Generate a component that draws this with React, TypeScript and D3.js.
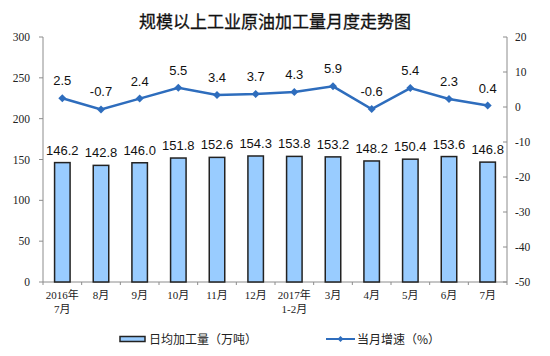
import React from "react";
import * as d3 from "d3";

const categories = ["2016年\n7月", "8月", "9月", "10月", "11月", "12月", "2017年\n1-2月", "3月", "4月", "5月", "6月", "7月"];
const dailyOutput = [146.2, 142.8, 146.0, 151.8, 152.6, 154.3, 153.8, 153.2, 148.2, 150.4, 153.6, 146.8];
const growth = [2.5, -0.7, 2.4, 5.5, 3.4, 3.7, 4.3, 5.9, -0.6, 5.4, 2.3, 0.4];
const leftTicks = [0, 50, 100, 150, 200, 250, 300];
const rightTicks = [-50, -40, -30, -20, -10, 0, 10, 20];
const title = "规模以上工业原油加工量月度走势图";
const barLegend = "日均加工量（万吨）";
const lineLegend = "当月增速（%）";

const W = 550;
const H = 356;
const left = 43;
const right = 507;
const top = 37;
const bottom = 282;

const serif = "'Liberation Serif', 'Noto Sans CJK SC', serif";
const sans = "'Liberation Sans', Arial, sans-serif";
const cjk = "'Noto Sans CJK SC', sans-serif";

export default function App() {
  const x = d3.scaleBand<number>().domain(d3.range(categories.length)).range([left, right]).padding(0);
  const yL = d3.scaleLinear().domain([0, 300]).range([bottom, top]);
  const yR = d3.scaleLinear().domain([-50, 20]).range([bottom, top]);
  const bw = 15.5;
  const lineColor = "#2E6DBD";
  const axisColor = "#8c8c8c";
  const line = d3
    .line<number>()
    .x((_, i) => (x(i) as number) + x.bandwidth() / 2)
    .y((d) => yR(d));
  const diamond = (cx: number, cy: number, r: number) =>
    `M${cx},${cy - r}L${cx + r},${cy}L${cx},${cy + r}L${cx - r},${cy}Z`;

  return (
    <svg width={W} height={H} style={{ position: "absolute", left: 0, top: 0, background: "#fff" }}>
      <text x={W / 2} y={28} textAnchor="middle" fontFamily={cjk} fontSize={17} fill="#111" fontWeight={400} stroke="#111" strokeWidth={0.3}>
        {title}
      </text>

      {/* axes */}
      <line x1={left} x2={left} y1={top} y2={bottom} stroke={axisColor} />
      <line x1={right} x2={right} y1={top} y2={bottom} stroke={axisColor} />
      <line x1={left} x2={right} y1={bottom} y2={bottom} stroke={axisColor} />
      {leftTicks.map((t) => (
        <g key={"l" + t}>
          <line x1={left - 4} x2={left} y1={yL(t)} y2={yL(t)} stroke={axisColor} />
          <text x={left - 13} y={yL(t) + 4} textAnchor="end" fontFamily={serif} fontSize={11.5} fill="#222">
            {t}
          </text>
        </g>
      ))}
      {rightTicks.map((t) => (
        <g key={"r" + t}>
          <line x1={right - 4} x2={right} y1={yR(t)} y2={yR(t)} stroke={axisColor} />
          <text x={515} y={yR(t) + 4} textAnchor="start" fontFamily={serif} fontSize={11.5} fill="#222">
            {t}
          </text>
        </g>
      ))}
      {d3.range(categories.length + 1).map((i) => {
        const xx = left + i * x.bandwidth();
        return <line key={"xt" + i} x1={xx} x2={xx} y1={bottom} y2={bottom + 3} stroke={axisColor} />;
      })}
      {categories.map((c, i) => {
        const cx = (x(i) as number) + x.bandwidth() / 2;
        return (
          <text key={"c" + i} x={cx} y={299} textAnchor="middle" fontFamily={serif} fontSize={11} fill="#222">
            {c.split("\n").map((s, j) => (
              <tspan key={j} x={cx} dy={j === 0 ? 0 : 14}>
                {s}
              </tspan>
            ))}
          </text>
        );
      })}

      {/* bars */}
      {dailyOutput.map((v, i) => {
        const cx = (x(i) as number) + x.bandwidth() / 2;
        return (
          <g key={"b" + i}>
            <rect x={cx - bw / 2} y={yL(v)} width={bw} height={bottom - yL(v)} fill="#99CCFF" stroke="#222" strokeWidth={1.5} />
            <text x={cx} y={yL(v) - 8} textAnchor="middle" fontFamily={sans} fontSize={13} fill="#111">
              {v.toFixed(1)}
            </text>
          </g>
        );
      })}

      {/* line */}
      <path d={line(growth) || ""} fill="none" stroke={lineColor} strokeWidth={2.5} />
      {growth.map((v, i) => {
        const cx = (x(i) as number) + x.bandwidth() / 2;
        return (
          <g key={"p" + i}>
            <path d={diamond(cx, yR(v), 4)} fill={lineColor} />
            <text x={cx} y={yR(v) - 13} textAnchor="middle" fontFamily={sans} fontSize={13} fill="#111">
              {v.toFixed(1)}
            </text>
          </g>
        );
      })}

      {/* legend */}
      <rect x={120} y={336.5} width={25} height={5} fill="#99CCFF" stroke="#222" strokeWidth={1.5} />
      <text x={149} y={343.5} fontFamily={cjk} fontSize={12} fill="#222">
        {barLegend}
      </text>
      <line x1={326} x2={355} y1={339} y2={339} stroke={lineColor} strokeWidth={2} />
      <path d={diamond(340.5, 339, 3)} fill={lineColor} />
      <text x={357} y={343.5} fontFamily={cjk} fontSize={12} fill="#222">
        {lineLegend}
      </text>
    </svg>
  );
}
